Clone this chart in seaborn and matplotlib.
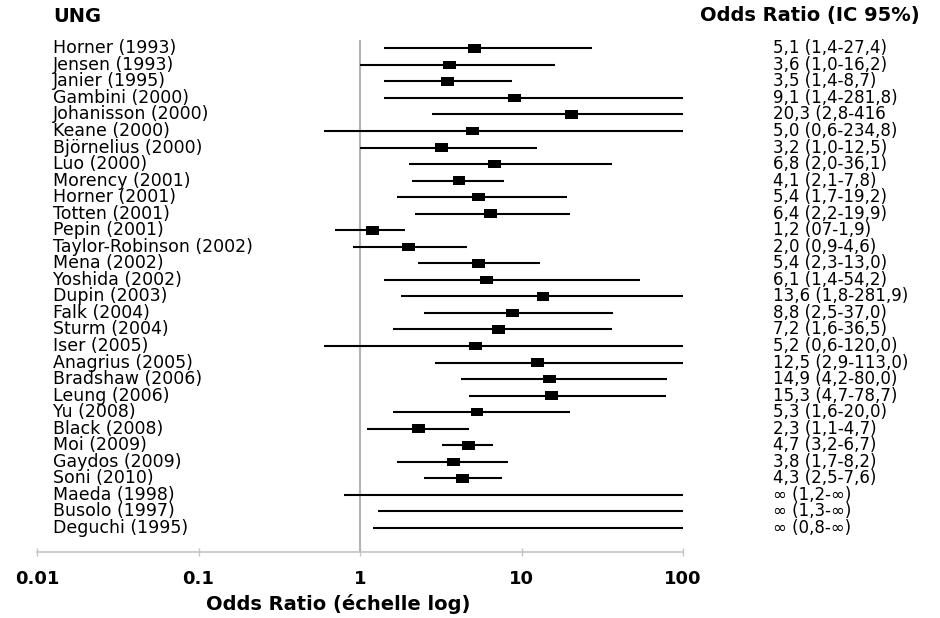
import numpy as np
import pandas as pd
import matplotlib
matplotlib.use("Agg")
import matplotlib.pyplot as plt
import seaborn as sns

# studies (top to bottom)
studies = ["Horner (1993)", "Jensen (1993)", "Janier (1995)", "Gambini (2000)",
           "Johanisson (2000)", "Keane (2000)", "Björnelius (2000)", "Luo (2000)",
           "Morency (2001)", "Horner (2001)", "Totten (2001)", "Pepin (2001)",
           "Taylor-Robinson (2002)", "Mena (2002)", "Yoshida (2002)", "Dupin (2003)",
           "Falk (2004)", "Sturm (2004)", "Iser (2005)", "Anagrius (2005)",
           "Bradshaw (2006)", "Leung (2006)", "Yu (2008)", "Black (2008)",
           "Moi (2009)", "Gaydos (2009)", "Soni (2010)", "Maeda (1998)",
           "Busolo (1997)", "Deguchi (1995)"]

inf = np.inf
odds = [5.1, 3.6, 3.5, 9.1, 20.3, 5.0, 3.2, 6.8, 4.1, 5.4, 6.4, 1.2, 2.0, 5.4, 6.1,
        13.6, 8.8, 7.2, 5.2, 12.5, 14.9, 15.3, 5.3, 2.3, 4.7, 3.8, 4.3, inf, inf, inf]
ci_low = [1.4, 1.0, 1.4, 1.4, 2.8, 0.6, 1.0, 2.0, 2.1, 1.7, 2.2, 0.7, 0.9, 2.3, 1.4,
          1.8, 2.5, 1.6, 0.6, 2.9, 4.2, 4.7, 1.6, 1.1, 3.2, 1.7, 2.5, 0.8, 1.3, 1.2]
ci_high = [27.4, 16.2, 8.7, 281.8, 416, 234.8, 12.5, 36.1, 7.8, 19.2, 19.9, 1.9, 4.6,
           13.0, 54.2, 281.9, 37.0, 36.5, 120.0, 113.0, 80.0, 78.7, 20.0, 4.7, 6.7,
           8.2, 7.6, inf, inf, inf]

# labels as printed in the source
or_labels = ["5,1 (1,4-27,4)", "3,6 (1,0-16,2)", "3,5 (1,4-8,7)", "9,1 (1,4-281,8)",
             "20,3 (2,8-416", "5,0 (0,6-234,8)", "3,2 (1,0-12,5)", "6,8 (2,0-36,1)",
             "4,1 (2,1-7,8)", "5,4 (1,7-19,2)", "6,4 (2,2-19,9)", "1,2 (07-1,9)",
             "2,0 (0,9-4,6)", "5,4 (2,3-13,0)", "6,1 (1,4-54,2)", "13,6 (1,8-281,9)",
             "8,8 (2,5-37,0)", "7,2 (1,6-36,5)", "5,2 (0,6-120,0)", "12,5 (2,9-113,0)",
             "14,9 (4,2-80,0)", "15,3 (4,7-78,7)", "5,3 (1,6-20,0)", "2,3 (1,1-4,7)",
             "4,7 (3,2-6,7)", "3,8 (1,7-8,2)", "4,3 (2,5-7,6)", "∞ (1,2-∞)",
             "∞ (1,3-∞)", "∞ (0,8-∞)"]

x_ticks = [0.01, 0.1, 1, 10, 100]
x_ticklabels = ["0.01", "0.1", "1", "10", "100"]

df = pd.DataFrame({"study": studies, "odds": odds, "low": ci_low, "high": ci_high,
                   "label": or_labels})
df["row"] = np.arange(len(df))
df["high_draw"] = np.minimum(df["high"], 100)

sns.set_theme(style="white")
plt.rcParams["font.family"] = ["DejaVu Sans"]
plt.rcParams["text.color"] = "black"
plt.rcParams["axes.labelcolor"] = "black"
plt.rcParams["xtick.labelcolor"] = "black"

fig = plt.figure(figsize=(9.4, 6.18), dpi=100)
W, H = 940, 618
ax = fig.add_axes([37 / W, (H - 552) / H, (683 - 37) / W, (552 - 40) / H])

ax.axvline(1, color="#b4b4b4", lw=1.5, zorder=1)
ax.hlines(df["row"], df["low"], df["high_draw"], color="black", lw=1.5, zorder=2)

pts = df[np.isfinite(df["odds"])]
box = [(-1.5, -1), (1.5, -1), (1.5, 1), (-1.5, 1)]
sns.scatterplot(data=pts, x="odds", y="row", marker=box, s=85, color="black",
                edgecolor="none", linewidth=0, ax=ax, zorder=3, legend=False)

ax.set_xscale("log")
ax.set_xlim(0.01, 100)
ax.set_ylim(30.45, -0.5)
ax.set_xticks(x_ticks)
ax.set_xticklabels(x_ticklabels, fontsize=13, fontweight="bold")
ax.minorticks_off()
ax.set_yticks([])
ax.set_ylabel("")
for s in ["top", "right", "left"]:
    ax.spines[s].set_visible(False)
ax.spines["bottom"].set_color("#c4c4c4")
ax.spines["bottom"].set_linewidth(1.2)
ax.tick_params(axis="x", direction="inout", length=6, width=1, color="#c4c4c4",
               pad=10, bottom=True)

ax.set_xlabel("Odds Ratio (échelle log)", fontsize=14, fontweight="bold")
ax.xaxis.set_label_coords((338 - 37) / 646, -0.083)

trans = ax.get_yaxis_transform()
for r, name, lab in zip(df["row"], df["study"], df["label"]):
    ax.text((53 - 37) / 646, r, name, transform=trans, fontsize=12.5,
            va="center", ha="left", clip_on=False)
    ax.text((773 - 37) / 646, r, lab, transform=trans, fontsize=12,
            va="center", ha="left", clip_on=False)

fig.text(53 / W, 1 - 16 / H, "UNG", fontsize=14, fontweight="bold", va="center")
fig.text(700 / W, 1 - 16 / H, "Odds Ratio (IC 95%)", fontsize=14,
         fontweight="bold", va="center")

fig.savefig("out.png", dpi=100)
